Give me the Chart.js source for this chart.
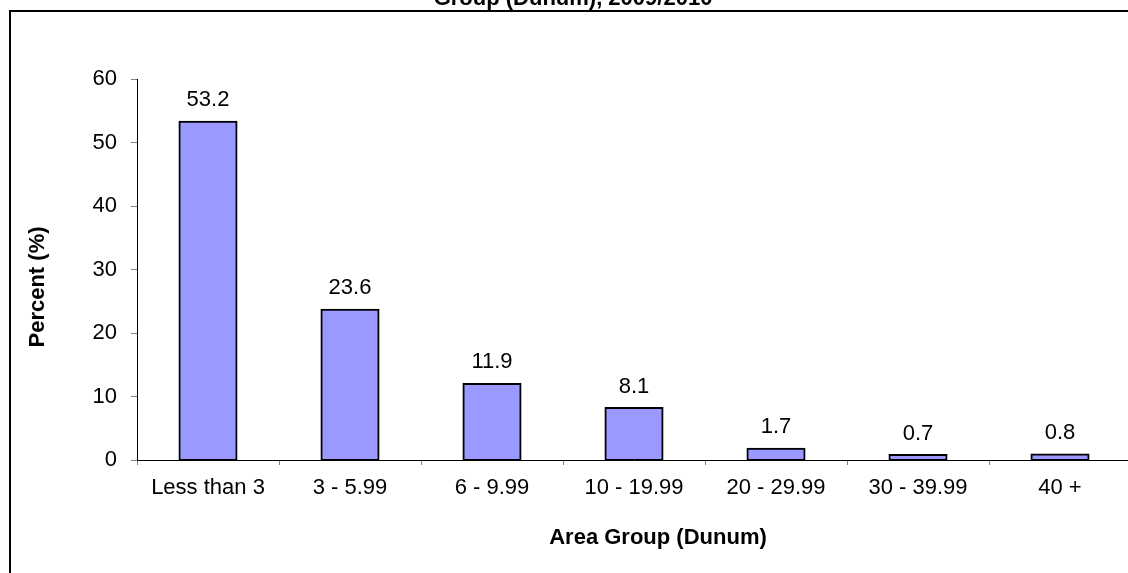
<!DOCTYPE html>
<html>
<head>
<meta charset="utf-8">
<script src="https://cdn.jsdelivr.net/npm/chart.js@4/dist/chart.umd.min.js"></script>
<style>
  html, body { margin: 0; padding: 0; background: #fff; overflow: hidden; }
  #frame {
    position: absolute; left: 9px; top: 10px; width: 1200px; height: 700px;
    border-left: 2px solid #000; border-top: 2px solid #000;
  }
  #chart { position: absolute; left: 0; top: 0; }
</style>
</head>
<body>
<div id="frame"></div>
<canvas id="chart" width="1160" height="573"></canvas>
<script>
// ─── Data ─────────────────────────────────────────────────────────────────────
const categories = ['Less than 3', '3 - 5.99', '6 - 9.99', '10 - 19.99', '20 - 29.99', '30 - 39.99', '40 +'];
const values = [53.2, 23.6, 11.9, 8.1, 1.7, 0.7, 0.8];
const yTicks = [0, 10, 20, 30, 40, 50, 60];

const TITLE = 'Group (Dunum), 2009/2010';
const X_TITLE = 'Area Group (Dunum)';
const Y_TITLE = 'Percent (%)';

const FONT = "Arial, 'Liberation Sans', sans-serif";

// ─── Value labels + titles drawn on the canvas ────────────────────────────────
const chartText = {
    id: 'chartText',
    afterDatasetsDraw(chart) {
        const ctx = chart.ctx;
        const meta = chart.getDatasetMeta(0);
        ctx.save();
        ctx.fillStyle = '#000';
        ctx.font = '22px ' + FONT;
        ctx.textAlign = 'center';
        ctx.textBaseline = 'alphabetic';
        meta.data.forEach((bar, i) => {
            ctx.fillText(values[i].toFixed(1), bar.x, bar.y - 16);
        });
        ctx.restore();
    },
    afterDraw(chart) {
        const ctx = chart.ctx;
        ctx.save();
        ctx.fillStyle = '#000';
        ctx.font = 'bold 22px ' + FONT;
        ctx.textAlign = 'center';

        // chart title is cut off at the top edge
        ctx.textBaseline = 'alphabetic';
        ctx.fillText(TITLE, 573, 5);

        ctx.textBaseline = 'middle';
        ctx.fillText(X_TITLE, 658, 538);

        ctx.translate(38, 287);
        ctx.rotate(-Math.PI / 2);
        ctx.fillText(Y_TITLE, 0, 0);
        ctx.restore();
    }
};

new Chart(document.getElementById('chart'), {
    type: 'bar',
    data: {
        labels: categories,
        datasets: [{
            data: values,
            backgroundColor: '#9999ff',
            borderColor: '#000',
            borderWidth: 2,
            borderSkipped: false,
            inflateAmount: 1.5,
            categoryPercentage: 1,
            barPercentage: 0.395,
        }]
    },
    options: {
        responsive: false,
        animation: false,
        layout: { padding: { left: 0, top: 79, right: 29, bottom: 73 } },
        plugins: {
            legend: { display: false },
            tooltip: { enabled: false },
            title: { display: false },
        },
        scales: {
            x: {
                afterFit: (scale) => { scale.height = 40; },
                grid: {
                    offset: true,
                    drawOnChartArea: false,
                    drawTicks: true,
                    tickLength: 5,
                    tickColor: '#808080',
                },
                border: { display: true, color: '#000', width: 1 },
                ticks: {
                    color: '#000',
                    font: { family: FONT, size: 22 },
                    padding: 10,
                    autoSkip: false,
                    maxRotation: 0,
                },
            },
            y: {
                min: 0,
                max: 60,
                afterFit: (scale) => { scale.width = 137; },
                afterBuildTicks: (scale) => { scale.ticks = yTicks.map(v => ({ value: v })); },
                grid: {
                    drawOnChartArea: false,
                    drawTicks: true,
                    tickLength: 6,
                    tickColor: '#808080',
                },
                border: { display: true, color: '#000', width: 1 },
                ticks: {
                    color: '#000',
                    font: { family: FONT, size: 22 },
                    padding: 14,
                },
            },
        },
    },
    plugins: [chartText],
});
</script>
</body>
</html>
